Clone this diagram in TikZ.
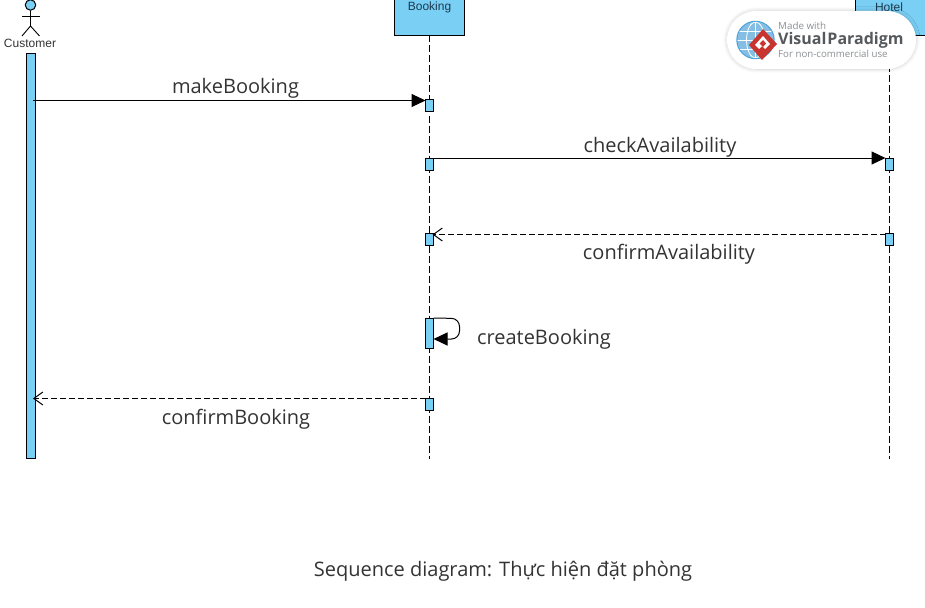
\documentclass[tikz,border=0pt]{standalone}
\usepackage{fontspec}
\setmainfont{Open Sans}
\newfontfamily\arialfont{Liberation Sans}
\usetikzlibrary{arrows.meta,positioning,shadows.blur}
\definecolor{umlblue}{HTML}{7ACFF5}
\definecolor{labelgray}{HTML}{333333}
\definecolor{namecol}{HTML}{1C3A50}
\definecolor{vpgray}{HTML}{55595C}
\definecolor{vplight}{HTML}{8C9093}
\definecolor{vpred}{HTML}{C8352E}
\definecolor{vpglobe}{HTML}{4FA3D8}
\tikzset{
  x=1pt,y=-1pt,
  lifebox/.style={draw=black,fill=umlblue,line width=1pt,minimum width=70pt,minimum height=36pt,inner sep=0pt,outer sep=0pt},
  boxname/.style={font=\arialfont\fontsize{12}{12}\selectfont,text=namecol,inner sep=0pt},
  activation/.style={draw=black,fill=umlblue,line width=1pt,minimum width=8pt,inner sep=0pt,outer sep=0pt},
  lifeline/.style={line width=1pt,dash pattern=on 7pt off 3pt},
  syncmsg/.style={line width=1pt,-{Triangle[length=14pt,width=13pt]}},
  retmsg/.style={line width=1pt,dash pattern=on 6pt off 3pt,-{Straight Barb[length=9pt,width=13pt,line width=1pt]}},
  msglabel/.style={font=\fontsize{20}{22}\selectfont,text=labelgray,inner sep=0pt},
}
\begin{document}
\begin{tikzpicture}
\useasboundingbox (0,0) rectangle (925,607);
% lifeline heads
\node[lifebox,anchor=north west] (booking) at (394.5,-0.5) {};
\node[lifebox,anchor=north west] (hotel) at (855,-0.5) {};
\node[boxname] (bookingname) at (429.5,7.5) {Booking};
\node[boxname] (hotelname) at (889,7) {Hotel};
% actor
\node[circle,draw=black,fill=umlblue,line width=1pt,minimum size=10.5pt,inner sep=0pt] (head) at (30.5,5) {};
\coordinate (hip) at (30.5,26);
\draw[line width=0.9pt] (head.south) -- (hip);
\draw[line width=0.9pt] (22,16) -- (39.5,16);
\draw[line width=0.9pt] (22,36) -- (hip) -- (39.5,36);
\node[font=\arialfont\fontsize{12}{12}\selectfont,text=labelgray,inner sep=0pt] (customer) at (30,43) {Customer};
% lifeline ends
\coordinate (bookingend) at (429.5,459);
\coordinate (hotelend) at (889.5,459);
\draw[lifeline] (booking.south) -- (bookingend);
\draw[lifeline] (hotel.south -| hotelend) -- (hotelend);
% activations
\node[activation,minimum width=9pt,minimum height=404.5pt,anchor=north] (custact) at (30.5,53.5) {};
\foreach \nm/\xx/\yy/\hh in {b1/429.5/99.5/12,b2/429.5/158/12,b3/429.5/233.5/12,b4/429.5/318/30,b5/429.5/398/12,h1/889.5/158/12,h2/889.5/233.5/12}{
  \node[activation,minimum height=\hh pt,anchor=north] (\nm) at (\xx,\yy) {};
}
% messages
\coordinate (custstart) at (33,100.5);
\coordinate (custret) at (33,398.5);
\draw[syncmsg] (custstart) -- (b1.west |- custstart);
\draw[syncmsg] (429.5,158) -- (h1.north west);
\draw[retmsg] (h2.west |- 0,234.5) -- (432.5,234.5);
\draw[retmsg] (b5.west |- custret) -- (custret);
\coordinate (selfstart) at (b4.north east);
\coordinate (selfend) at (433.5,339);
\draw[syncmsg,rounded corners=8pt] (selfstart) -- (459.5,318.5) -- (459.5,339) -- (selfend);
% labels
\node[msglabel] (l1) at (235.5,88) {makeBooking};
\node[msglabel] (l2) at (660,147) {checkAvailability};
\node[msglabel] (l3) at (669,254) {confirmAvailability};
\node[msglabel] (l4) at (544,339) {createBooking};
\node[msglabel] (l5) at (236,419) {confirmBooking};
\node[msglabel] (caption) at (503,571) {Sequence diagram: Thực hiện đặt phòng};
% watermark
\node[draw=none,fill=white,rounded corners=29pt,minimum width=189pt,minimum height=58pt,inner sep=0pt,blur shadow={shadow blur steps=8,shadow xshift=0pt,shadow yshift=0pt,shadow blur radius=4pt,shadow opacity=20}] (badge) at (821.5,40) {};
\node[circle,draw=vpglobe,fill=white,line width=1.4pt,minimum size=37pt,inner sep=0pt] (globe) at (755.5,40) {};
\begin{scope}
\clip (755.5,40) circle (18pt);
\fill[vpglobe!70] (755.5,40) circle (18pt);
\draw[white,line width=0.8pt] (737,40) -- (774,40) (737,31) -- (774,31) (737,49) -- (774,49) (755.5,21) -- (755.5,59);
\draw[white,line width=0.8pt] (755.5,40) ellipse (9pt and 18pt);
\end{scope}
\fill[vpred] (763,29) -- (777,44) -- (762,60) -- (749,45) -- cycle;
\fill[white] (763,36) -- (770,44) -- (765,49) -- (762,46) -- (759,49) -- (755,45) -- cycle;
\fill[vpred] (763,40) -- (766,43.5) -- (763,47) -- (759.5,43.5) -- cycle;
\node[font=\fontsize{9.8}{10}\selectfont,text=vplight,inner sep=0pt,anchor=west] (vp1) at (778,26) {Made with};
\node[font=\bfseries\fontsize{16}{17}\selectfont,text=vpgray,inner sep=0pt,anchor=west] (vp2) at (778,40) {Visual\kern1ptParadigm};
\node[font=\fontsize{9.7}{10}\selectfont,text=vplight,inner sep=0pt,anchor=west] (vp3) at (778,54) {For non-commercial use};
\end{tikzpicture}
\end{document}
